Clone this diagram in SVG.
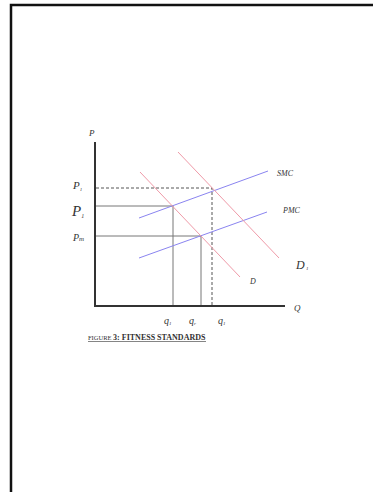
<svg xmlns="http://www.w3.org/2000/svg" width="373" height="492" viewBox="0 0 373 492">
<style>
text{font-family:"Liberation Serif","DejaVu Serif",serif;fill:#333;font-style:italic}
text.cap{font-style:normal}
.guide{stroke:#777;stroke-width:1;fill:none}
.dash{stroke:#555;stroke-width:1;stroke-dasharray:3,2;fill:none}
.mc{stroke:#8a84f0;stroke-width:1;fill:none}
.dem{stroke:#ef9aa8;stroke-width:1;fill:none}
</style>
<rect width="373" height="492" fill="#fff"/>
<g id="frame"><path d="M11,492 V5 H373" fill="none" stroke="#111" stroke-width="2.5"/></g>
<g id="connectors">
<path class="dash" d="M96,188 H212 V306"/>
<path class="guide" d="M96,206 H173 V306"/>
<path class="guide" d="M96,236 H201 V306"/>
<path class="mc" d="M139,218 L268,171"/>
<path class="mc" d="M139,258 L267,212"/>
<path class="dem" d="M140,172 L240,277"/>
<path class="dem" d="M178,152 L279,258"/>
</g>
<g id="axes"><path d="M95,142 V306 H285" fill="none" stroke="#333" stroke-width="2"/></g>
<g id="labels">
<text x="89" y="136" font-size="9">P</text>
<text x="73" y="189" font-size="11">P<tspan font-size="5" dy="2">1</tspan></text>
<text x="72" y="216" font-size="15">P<tspan font-size="6" dy="2">1</tspan></text>
<text x="73" y="241" font-size="10">P<tspan font-size="7">m</tspan></text>
<text x="164" y="324" font-size="10">q<tspan font-size="5" dy="1">1</tspan></text>
<text x="189" y="324" font-size="10">q<tspan font-size="5" dy="1">r</tspan></text>
<text x="218" y="324" font-size="10">q<tspan font-size="5" dy="1">1</tspan></text>
<text x="277" y="176" font-size="8">SMC</text>
<text x="283" y="213" font-size="8">PMC</text>
<text x="296" y="269" font-size="12">D<tspan font-size="5" dy="1"> 1</tspan></text>
<text x="250" y="284" font-size="8">D</text>
<text x="294" y="311" font-size="9">Q</text>
</g>
<g id="caption">
<text class="cap" x="88" y="340" font-size="6.5">FIGURE <tspan font-weight="bold" font-size="8">3: FITNESS STANDARDS</tspan></text>
<line x1="88" y1="341.5" x2="206" y2="341.5" stroke="#333" stroke-width="0.6"/>
</g>
</svg>
